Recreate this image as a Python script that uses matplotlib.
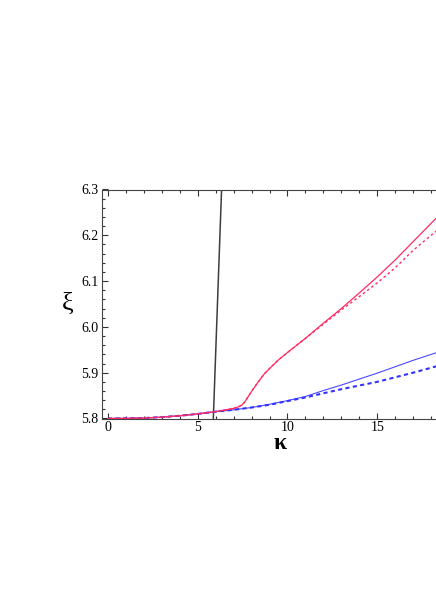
import matplotlib
matplotlib.use("Agg")
import matplotlib.pyplot as plt
from matplotlib.ticker import MultipleLocator

# black (steep) branch
kappa_black = [5.87, 6.10, 6.33, 6.40]
xi_black = [5.80, 6.05, 6.30, 6.38]

# red solid / dashed
kappa_red = [0, 1, 2, 3, 4, 5, 6, 7.0, 7.3, 7.45, 7.6, 7.75, 8.0, 8.3, 8.7, 9.0, 9.5, 10, 11, 12, 13, 14, 15, 16, 17, 18.4]
xi_red = [5.800, 5.8003, 5.801, 5.803, 5.806, 5.810, 5.815, 5.822, 5.826, 5.829, 5.835, 5.844, 5.859,
          5.876, 5.897, 5.909, 5.928, 5.944, 5.975, 6.008, 6.040, 6.074, 6.109, 6.146, 6.186, 6.242]
xi_red_d = [5.800, 5.8003, 5.801, 5.803, 5.806, 5.810, 5.815, 5.822, 5.826, 5.829, 5.835, 5.844, 5.859,
            5.876, 5.897, 5.909, 5.928, 5.944, 5.975, 6.006, 6.037, 6.066, 6.096, 6.129, 6.167, 6.213]

# blue solid / dashed
kappa_blue = [0, 1, 2, 3, 4, 5, 6, 7, 8, 9, 10, 11, 12, 13, 14, 15, 16, 17, 18.4]
xi_blue = [5.800, 5.8003, 5.801, 5.803, 5.806, 5.810, 5.815, 5.819, 5.824, 5.831, 5.839,
           5.848, 5.861, 5.873, 5.886, 5.899, 5.913, 5.927, 5.945]
xi_blue_d = [5.800, 5.8003, 5.801, 5.803, 5.806, 5.810, 5.815, 5.819, 5.824, 5.830, 5.838,
             5.846, 5.855, 5.864, 5.872, 5.880, 5.890, 5.900, 5.915]

serif = ["Liberation Serif", "DejaVu Serif"]

fig = plt.figure(figsize=(4.36, 6.16), dpi=100)
ax = fig.add_axes([101.5 / 436, 197.5 / 616, 357 / 436, 229 / 616])

ax.plot(kappa_black, xi_black, color="#3a3f3f", lw=1.1)
ax.plot(kappa_blue, xi_blue, color="#4a4aff", lw=0.8)
ax.plot(kappa_blue, xi_blue_d, color="#3333ff", lw=1.5, ls=(0, (2.0, 1.6)))
ax.plot(kappa_red, xi_red, color="#ff2a62", lw=0.9)
ax.plot(kappa_red, xi_red_d, color="#ff2a62", lw=1.0, ls=(0, (1.8, 2.0)))

ax.set_xlim(-0.36, 19.53)
ax.set_ylim(5.8, 6.3)

ax.xaxis.set_major_locator(MultipleLocator(5))
ax.xaxis.set_minor_locator(MultipleLocator(1))
ax.yaxis.set_major_locator(MultipleLocator(0.1))
ax.yaxis.set_minor_locator(MultipleLocator(0.02))
ax.yaxis.set_major_formatter(plt.FuncFormatter(lambda v, p: f"{v:.1f}"))

ax.tick_params(which="both", direction="in", top=True, right=False, color="#333333", width=0.8)
ax.tick_params(which="major", length=4, pad=2)
ax.tick_params(which="minor", length=2)
for lab in ax.get_xticklabels() + ax.get_yticklabels():
    lab.set_family(serif)
    lab.set_fontsize(10)

for side in ["left", "top", "bottom"]:
    ax.spines[side].set_color("#444444")
    ax.spines[side].set_linewidth(0.8)
ax.spines["right"].set_visible(False)

ax.set_xlabel("κ", family=serif, fontsize=17, fontweight="bold", labelpad=-1)
ax.set_ylabel("ξ", family=serif, fontsize=19, rotation=0, labelpad=10, va="center")

fig.savefig("out.png", dpi=100)
